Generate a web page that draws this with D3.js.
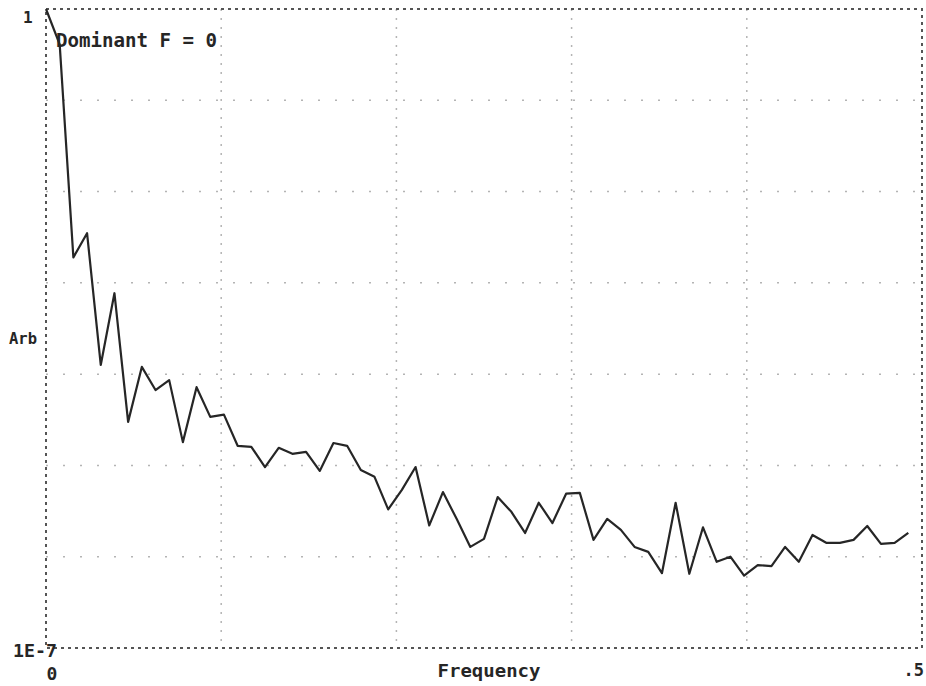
<!DOCTYPE html>
<html lang="en">

<head>
    <meta charset="utf-8">
    <title>Dominant Frequency Spectrum</title>
    <script src="https://d3js.org/d3.v7.min.js" charset="utf-8"></script>
    <style type="text/css">
        body { margin: 0; background: #fff; }
        svg { display: block; }
    </style>
</head>

<body>

<svg id="svg"></svg>

<script type="text/javascript">

    // spectrum magnitude, one value per frequency bin (bin width 1/128)
    var magnitudes = [
        1, 4.1e-1, 1.9e-3, 3.5e-3, 1.26e-4, 7.7e-4, 3.0e-5, 1.2e-4,
        6.7e-5, 8.6e-5, 1.8e-5, 7.2e-5, 3.4e-5, 3.6e-5, 1.64e-5, 1.6e-5,
        9.6e-6, 1.56e-5, 1.34e-5, 1.41e-5, 8.7e-6, 1.76e-5, 1.64e-5, 8.9e-6,
        7.5e-6, 3.3e-6, 5.4e-6, 9.6e-6, 2.2e-6, 5.1e-6, 2.6e-6, 1.28e-6,
        1.57e-6, 4.5e-6, 3.1e-6, 1.82e-6, 3.9e-6, 2.34e-6, 4.9e-6, 5.0e-6,
        1.53e-6, 2.6e-6, 1.97e-6, 1.28e-6, 1.13e-6, 6.6e-7, 3.9e-6, 6.5e-7,
        2.1e-6, 8.8e-7, 1.0e-6, 6.2e-7, 8.1e-7, 7.9e-7, 1.28e-6, 8.8e-7,
        1.73e-6, 1.42e-6, 1.42e-6, 1.53e-6, 2.17e-6, 1.38e-6, 1.42e-6, 1.82e-6
    ];
    var binWidth = 1 / 128;

    var xGrid = [0, 0.1, 0.2, 0.3, 0.4, 0.5];
    var yGrid = [1e-7, 1e-6, 1e-5, 1e-4, 1e-3, 1e-2, 1e-1, 1];

    var xTickLabels = ['0', '.5'];
    var yTickLabels = ['1', '1E-7'];

    var title = 'Dominant F = 0';
    var xTitle = 'Frequency';
    var yTitle = 'Arb';

    function draw() {
        var fontFamily = '"DejaVu Sans Mono", "Liberation Mono", monospace';
        var ink = '#262626';

        var svg = d3.select('svg')
                .attr('width', 926)
                .attr('height', 686);

        var x = d3.scaleLinear().domain([0, 0.5]).range([46, 922]);
        var y = d3.scaleLog().domain([1e-7, 1]).range([648, 9]);

        // inner dotted grid
        svg.append('g').selectAll('line')
                .data(xGrid.slice(1, -1))
                .enter().append('line')
                .attr('x1', function (d) { return x(d); })
                .attr('x2', function (d) { return x(d); })
                .attr('y1', y(1))
                .attr('y2', y(1e-7))
                .style('stroke', '#b4b4b4')
                .style('stroke-width', 1.5)
                .style('stroke-dasharray', '2,7');

        svg.append('g').selectAll('line')
                .data(yGrid.slice(1, -1))
                .enter().append('line')
                .attr('x1', x(0))
                .attr('x2', x(0.5))
                .attr('y1', function (d) { return y(d); })
                .attr('y2', function (d) { return y(d); })
                .style('stroke', '#b4b4b4')
                .style('stroke-width', 1.5)
                .style('stroke-dasharray', '2,15');

        // dotted frame
        svg.append('rect')
                .attr('x', x(0))
                .attr('y', y(1))
                .attr('width', x(0.5) - x(0))
                .attr('height', y(1e-7) - y(1))
                .style('fill', 'none')
                .style('stroke', '#555')
                .style('stroke-width', 2)
                .style('stroke-dasharray', '3,4');

        var line = d3.line()
                .x(function (d, i) { return x(i * binWidth); })
                .y(function (d) { return y(d); });

        svg.append('path')
                .datum(magnitudes)
                .attr('d', line)
                .style('fill', 'none')
                .style('stroke', ink)
                .style('stroke-width', 2.2)
                .style('stroke-linejoin', 'round');

        // text
        function label(txt, px, py, size, anchor, len) {
            var t = svg.append('text')
                    .attr('x', px)
                    .attr('y', py)
                    .style('font-family', fontFamily)
                    .style('font-weight', 'bold')
                    .style('font-size', size + 'px')
                    .style('fill', ink)
                    .style('text-anchor', anchor || 'start')
                    .text(txt);
            if (len) {
                t.attr('textLength', len).attr('lengthAdjust', 'spacingAndGlyphs');
            }
            return t;
        }

        label(title, 56, 47, 19, 'start', 161);

        label(yTickLabels[0], 23, y(1) + 14, 16, 'start');
        label(yTickLabels[1], 13, y(1e-7) + 9, 17, 'start', 44);

        label(xTickLabels[0], x(0) + 6, 680, 18, 'middle');
        label(xTickLabels[1], 924, 676, 17, 'end');

        label(xTitle, 489, 677, 18, 'middle', 103);
        label(yTitle, 9, 344, 15, 'start', 28);
    }

    draw();
</script>
</body>

</html>
